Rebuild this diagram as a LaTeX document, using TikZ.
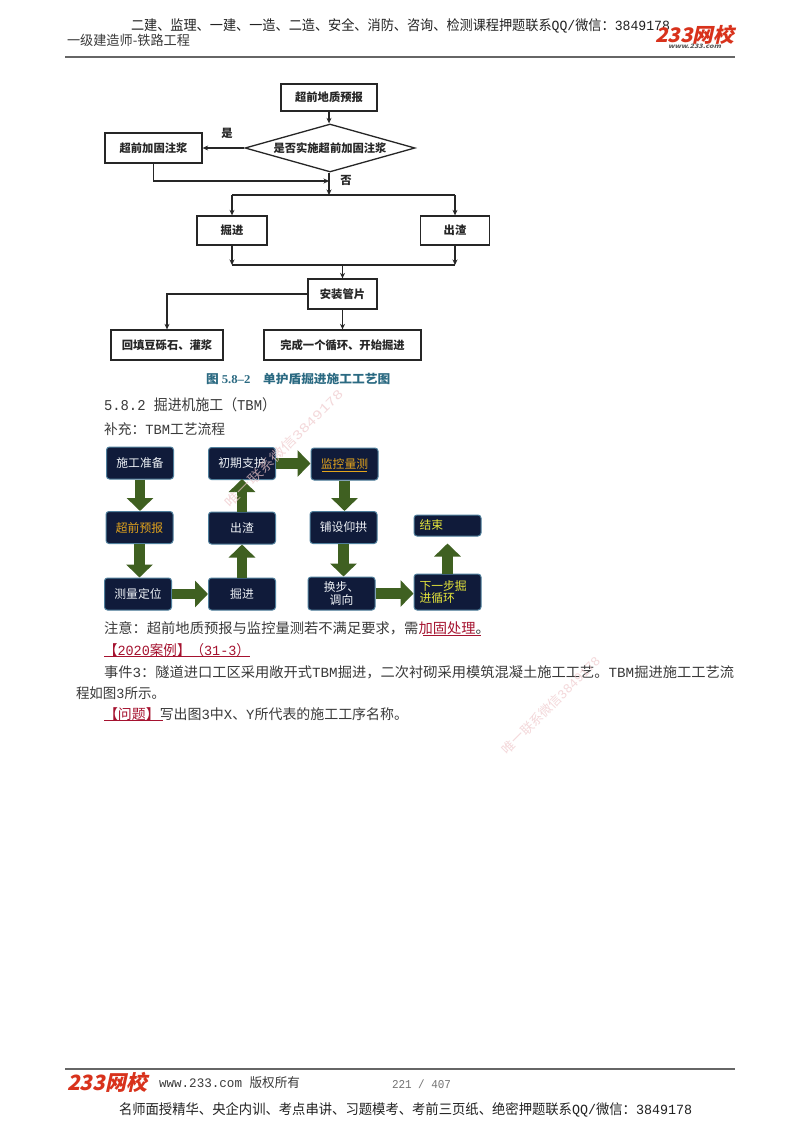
\documentclass[tikz,border=0pt]{standalone}
\usepackage{fontspec}
\usepackage{graphicx}
\usetikzlibrary{shapes.geometric,arrows.meta}
\setmainfont{Noto Sans CJK SC}
\newfontfamily\lat{Liberation Mono}
\newfontfamily\serifb{Liberation Serif}
\newfontfamily\logocjk[FakeSlant=0.22]{Noto Sans CJK SC}
\newcommand{\fw}[2]{\resizebox{#1pt}{\height}{#2}}
\newcommand{\fs}[1]{\fontsize{#1pt}{#1pt}\selectfont}
\definecolor{txt}{HTML}{3A3A3A}
\definecolor{hdr}{HTML}{222222}
\definecolor{crim}{HTML}{A5122F}
\definecolor{cap}{HTML}{2B6A82}
\definecolor{navy}{HTML}{101B3A}
\definecolor{edge}{HTML}{4F7F9C}
\definecolor{gold}{HTML}{E3A41C}
\definecolor{yel}{HTML}{E6E63A}
\definecolor{pale}{HTML}{EFF3F7}
\definecolor{fat}{HTML}{3F6021}
\definecolor{logored}{HTML}{D8321C}
\definecolor{wm}{HTML}{EFC8CB}
\tikzset{
  t/.style={anchor=west,inner sep=0pt,outer sep=0pt,text=txt,font=\fs{14}},
  fb/.style={draw=black!85,line width=1.3pt,fill=white,inner sep=0pt,font=\fs{11.3}\bfseries,text=black!85},
  fl/.style={draw=black!85,line width=1.2pt,-{Stealth[length=5.5pt,width=5pt]}},
  fn/.style={draw=black!85,line width=1.2pt},
  db/.style={draw=edge,line width=1pt,fill=navy,rounded corners=3pt,inner sep=0pt,align=center,text=pale,font=\fs{11.8}},
  big/.style={draw=fat,color=fat,line width=10.5pt,-{Triangle[length=13pt,width=26pt]}},
  wmk/.style={inner sep=0pt,text=wm,opacity=.7,rotate=45,font=\fs{13}},
  rl/.style={line width=1pt,color=crim},
  hr/.style={line width=1.3pt,color=black!60}
}
\begin{document}
\begin{tikzpicture}[x=1pt,y=-1pt]
\useasboundingbox (0,0) rectangle (800,1132);
\fill[white] (0,0) rectangle (800,1132);
% header
\node[t,text=hdr] (h1) at (131,26) {\fw{539}{\fs{14}二建、监理、一建、一造、二造、安全、消防、咨询、检测课程押题联系{\lat QQ/}微信：{\lat 3849178}}};
\node[t] (h2) at (67,40) {\fw{123}{\fs{13.5}一级建造师-铁路工程}};
\coordinate (hl) at (65,57); \coordinate (hr) at (735,57);
\draw[hr] (hl) -- (hr);
\node[t,text=logored] (logo1) at (655,34.5) {\fw{79}{\fs{20}\logocjk\bfseries 233网校}};
\node[t,text=black!65] (logo2) at (668,46) {\fw{53}{\fs{6}\logocjk\bfseries www.233.com}};
% flowchart 1
\node[fb,minimum width=96pt,minimum height=27pt] (a) at (329,97.5) {超前地质预报};
\node[fb,diamond,aspect=3.54,minimum width=170pt,minimum height=48pt] (d) at (330,148) {是否实施超前加固注浆};
\node[fb,minimum width=97pt,minimum height=30pt] (g) at (153.5,148) {超前加固注浆};
\node[inner sep=0pt,font=\fs{11.3}\bfseries,text=black!85] (y) at (227,133) {是};
\node[inner sep=0pt,font=\fs{11.3}\bfseries,text=black!85] (n) at (346,180) {否};
\coordinate (j1) at (329,181); \coordinate (j2) at (329,195);
\node[fb,minimum width=70pt,minimum height=29pt] (k) at (232,230.5) {掘进};
\node[fb,minimum width=69pt,minimum height=29pt] (c) at (455,230.5) {出渣};
\node[fb,minimum width=69pt,minimum height=30pt] (s) at (342.5,294) {安装管片};
\node[fb,minimum width=112pt,minimum height=30pt] (h) at (167,345) {回填豆砾石、灌浆};
\node[fb,minimum width=157pt,minimum height=30pt] (w) at (342.5,345) {完成一个循环、开始掘进};
\coordinate (l1) at (232,195); \coordinate (r1) at (455,195);
\coordinate (l2) at (232,265); \coordinate (r2) at (455,265); \coordinate (m2) at (342.5,265);
\draw[fl] (a) -- (a |- d.north);
\draw[fl] (d) -- (g);
\draw[fl] (d.south -| j2) -- (j2);
\draw[fl] (g.south) |- (j1);
\draw[fn] (l1) -- (r1);
\draw[fl] (l1) -- (k);
\draw[fl] (r1) -- (c);
\draw[fl] (k) -- (l2);
\draw[fl] (c) -- (r2);
\draw[fn] (l2) -- (r2);
\draw[fl] (m2) -- (s);
\draw[fl] (s.west) -| (h.north);
\draw[fl] (s) -- (w);
\node[inner sep=0pt,anchor=west,text=cap] (cp) at (206,379) {\fw{184}{\fs{12}\bfseries 图 {\serifb 5.8–2}\hspace{1em}单护盾掘进施工工艺图}};
% body
\node[t] (s1) at (104,405) {\fw{172}{\fs{15}{\lat 5.8.2 }掘进机施工（{\lat TBM}）}};
\node[t] (s2) at (104,429) {\fw{121}{\fs{14}补充：{\lat TBM}工艺流程}};
% flowchart 2
\tikzset{db2/.style={db,minimum width=67pt,minimum height=32pt}}
\node[db2] (b1) at (140,463) {施工准备};
\node[db2,text=gold] (b2) at (139.5,527.5) {超前预报};
\node[db2] (b3) at (138,594) {测量定位};
\node[db2] (b4) at (242,594) {掘进};
\node[db2] (b5) at (242,528) {出渣};
\node[db2] (b6) at (242,463.5) {初期支护};
\node[db2,text=gold] (b7) at (344.5,464) {监控量测};
\node[db2] (b8) at (343.5,527.5) {铺设仰拱};
\node[db2,minimum height=33pt] (b9) at (341.5,593.5) {换步、\\[1pt]调向};
\node[db2,text=yel,minimum height=36pt,text width=56pt,align=left] (b10) at (447.5,592) {下一步掘\\[1pt]进循环};
\node[db2,text=yel,minimum height=21pt,text width=56pt,align=left] (b11) at (447.5,525.5) {结束};
\coordinate (u1) at (322,471); \coordinate (u2) at (367,471);
\draw[gold,line width=.7pt] (u1) -- (u2);
\draw[big] (b1.south) -- (b1.south |- b2.north);
\draw[big] (b2.south) -- (b2.south |- b3.north);
\draw[big] (b3.east) -- (b4.west |- b3.east);
\draw[big] (b4.north) -- (b5.south);
\draw[big] (b5.north) -- ([yshift=1pt]b6.south);
\draw[big] (b6.east) -- (b7.west |- b6.east);
\draw[big] (b7.south) -- (b7.south |- b8.north);
\draw[big] (b8.south) -- (b8.south |- b9.north);
\draw[big] (b9.east) -- (b10.west |- b9.east);
\draw[big] (b10.north) -- ([yshift=-7pt]b11.south);
% text
\node[t] (p1) at (104,628) {\fw{386}{\fs{14}注意：超前地质预报与监控量测若不满足要求，需{\color{crim}加固处理}。}};
\coordinate (pa) at (423,635.5); \coordinate (pb) at (481,635.5);
\draw[rl] (pa) -- (pb);
\node[t,text=crim] (p2) at (104,650) {\fw{146}{\fs{14}【{\lat 2020}案例】（{\lat 31-3}）}};
\coordinate (qa) at (104,656.5); \coordinate (qb) at (250,656.5);
\draw[rl] (qa) -- (qb);
\node[t] (p3) at (104,672) {\fw{630}{\fs{14}事件{\lat 3}：隧道进口工区采用敞开式{\lat TBM}掘进，二次衬砌采用模筑混凝土施工工艺。{\lat TBM}掘进施工工艺流}};
\node[t] (p4) at (76,693) {\fw{89}{\fs{14}程如图{\lat 3}所示。}};
\node[t] (p5) at (104,714) {\fw{304}{\fs{14}{\color{crim}【问题】}写出图{\lat 3}中{\lat X}、{\lat Y}所代表的施工工序名称。}};
\coordinate (ra) at (104,720.5); \coordinate (rb) at (163,720.5);
\draw[rl] (ra) -- (rb);
% watermarks
\node[wmk] (w1) at (284,448) {\fw{160}{\fs{13}唯一联系微信{\lat 3849178}}};
\node[wmk] (w2) at (551,705) {\fw{132}{\fs{13}唯一联系微信{\lat 3849178}}};
% footer
\coordinate (fl) at (65,1069); \coordinate (fr) at (735,1069);
\draw[hr] (fl) -- (fr);
\node[t,text=logored] (f1) at (67,1082) {\fw{80}{\fs{21}\logocjk\bfseries 233网校}};
\node[t] (f2) at (159,1083) {\fw{141}{\fs{13}{\lat www.233.com }版权所有}};
\node[t,text=black!55] (f3) at (392,1084) {\fw{59}{\fs{12}\lat 221 / 407}};
\node[t,text=hdr] (f4) at (119,1110) {\fw{573}{\fs{14}名师面授精华、央企内训、考点串讲、习题模考、考前三页纸、绝密押题联系{\lat QQ/}微信：{\lat 3849178}}};
\end{tikzpicture}
\end{document}
